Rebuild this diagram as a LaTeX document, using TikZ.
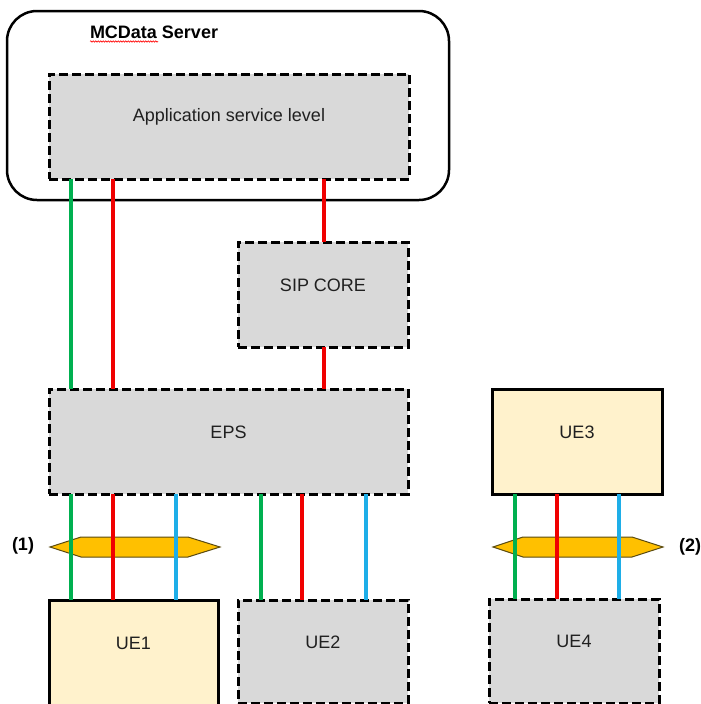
\documentclass[tikz,border=0pt]{standalone}
\usepackage{fontspec}
\setmainfont{Liberation Sans}
\usetikzlibrary{decorations.pathmorphing}
\definecolor{boxgray}{HTML}{D9D9D9}
\definecolor{cream}{HTML}{FFF2CC}
\definecolor{lgreen}{HTML}{00B050}
\definecolor{lred}{HTML}{F00000}
\definecolor{lblue}{HTML}{1EAEE8}
\definecolor{hexfill}{HTML}{FFC000}
\definecolor{hexline}{HTML}{5A4A10}
\definecolor{txt}{HTML}{202020}
\begin{document}
\begin{tikzpicture}[x=1pt,y=-1pt,
  every node/.style={inner sep=0pt, outer sep=0pt},
  bigfont/.style={font=\fontsize{18}{21.6}\selectfont},
  boldfont/.style={font=\fontsize{18}{21.6}\selectfont\bfseries},
  dbox/.style={draw=black, line width=3pt, dash pattern=on 9pt off 4pt, fill=boxgray},
  sbox/.style={draw=black, line width=3pt, fill=cream},
  boxlabel/.style={label={[bigfont, text=txt, yshift=9.5pt]center:#1}},
  wire/.style={line width=3.5pt},
  gw/.style={wire, lgreen}, rw/.style={wire, lred}, bw/.style={wire, lblue},
  hex/.style={fill=hexfill, draw=hexline, line width=1pt},
]
\clip (0,0) rectangle (701,704);
\fill[white] (0,0) rectangle (701,704);

% server frame
\node[draw=black, line width=2.5pt, rounded corners=30pt, minimum width=442pt, minimum height=189pt] (server) at (228,105.5) {};
\node[boldfont, anchor=west] (title) at (90,32.5) {MCData Server};
\draw[red, line width=0.6pt, decorate, decoration={snake, amplitude=0.7pt, segment length=2.5pt}] (90,41.5) -- (158,41.5);

% boxes
\node[dbox, minimum width=360pt, minimum height=105pt, boxlabel=Application service level] (app) at (229,126.5) {};
\node[dbox, minimum width=170pt, minimum height=105pt, boxlabel=SIP CORE] (sip) at (323,294.5) {};
\node[dbox, minimum width=359pt, minimum height=105pt, boxlabel=EPS] (eps) at (228.5,441.5) {};
\node[sbox, minimum width=169pt, minimum height=116pt, label={[bigfont, text=txt, yshift=15pt]center:UE1}] (ue1) at (133.5,658) {};
\node[dbox, minimum width=170pt, minimum height=103pt, boxlabel=UE2] (ue2) at (323,651.5) {};
\node[sbox, minimum width=170pt, minimum height=105pt, boxlabel=UE3] (ue3) at (577,441.5) {};
\node[dbox, minimum width=170pt, minimum height=104pt, boxlabel=UE4] (ue4) at (574,651) {};

% hexagons
\draw[hex] (50,547) -- (81,537) -- (188,537) -- (220,547) -- (188,557) -- (81,557) -- cycle;
\draw[hex] (493,547) -- (523,537) -- (632,537) -- (663,547) -- (632,557) -- (523,557) -- cycle;
\node[boldfont] (l1) at (23,546) {(1)};
\node[boldfont] (l2) at (690,547) {(2)};

% wire x positions
\coordinate (xg1) at (71,0);
\coordinate (xr1) at (113,0);
\coordinate (xb1) at (176,0);
\coordinate (xr2) at (324,0);
\coordinate (xg2) at (261,0);
\coordinate (xr3) at (302,0);
\coordinate (xb2) at (366,0);
\coordinate (xg3) at (515,0);
\coordinate (xr4) at (557,0);
\coordinate (xb3) at (619,0);

% wires
\draw[gw] (app.south -| xg1) -- (eps.north -| xg1);
\draw[rw] (app.south -| xr1) -- (eps.north -| xr1);
\draw[rw] (app.south -| xr2) -- (sip.north -| xr2);
\draw[rw] (sip.south -| xr2) -- (eps.north -| xr2);

\draw[gw] (eps.south -| xg1) -- (ue1.north -| xg1);
\draw[rw] (eps.south -| xr1) -- (ue1.north -| xr1);
\draw[bw] (eps.south -| xb1) -- (ue1.north -| xb1);

\draw[gw] (eps.south -| xg2) -- (ue2.north -| xg2);
\draw[rw] (eps.south -| xr3) -- (ue2.north -| xr3);
\draw[bw] (eps.south -| xb2) -- (ue2.north -| xb2);

\draw[gw] (ue3.south -| xg3) -- (ue4.north -| xg3);
\draw[rw] (ue3.south -| xr4) -- (ue4.north -| xr4);
\draw[bw] (ue3.south -| xb3) -- (ue4.north -| xb3);
\end{tikzpicture}
\end{document}
